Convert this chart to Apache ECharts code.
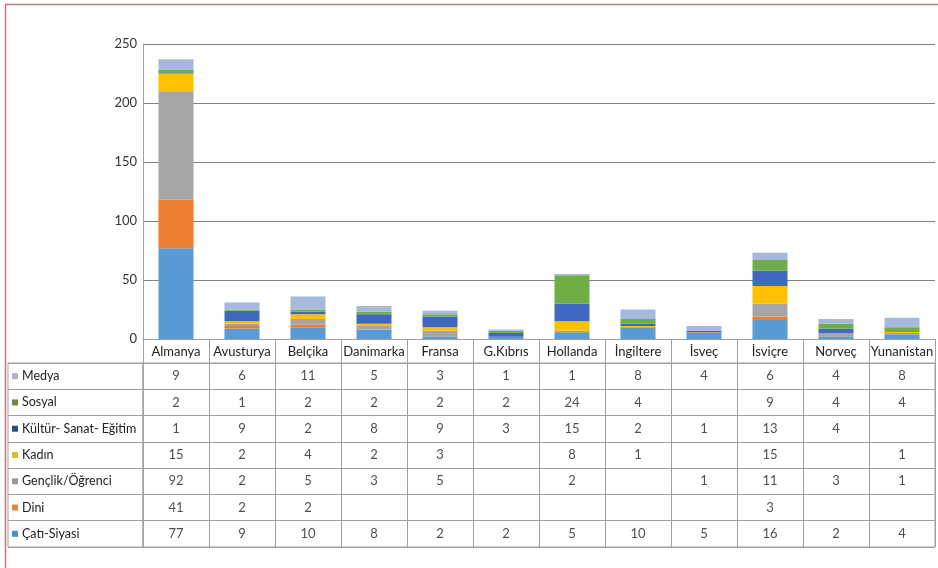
<!DOCTYPE html>
<html><head><meta charset="utf-8">
<script src="https://cdn.jsdelivr.net/npm/echarts@6/dist/echarts.min.js"></script>
<style>html,body{margin:0;padding:0;background:#fff}#c{width:938px;height:568px}</style>
</head><body><div id="c"></div>
<script>
const categories = ['Almanya','Avusturya','Belçika','Danimarka','Fransa','G.Kıbrıs','Hollanda','İngiltere','İsveç','İsviçre','Norveç','Yunanistan'];
const catiSiyasi = [77,9,10,8,2,2,5,10,5,16,2,4];
const dini       = [41,2,2,null,null,null,null,null,null,3,null,null];
const genclik    = [92,2,5,3,5,null,2,null,1,11,3,1];
const kadin      = [15,2,4,2,3,null,8,1,null,15,null,1];
const kultur     = [1,9,2,8,9,3,15,2,1,13,4,null];
const sosyal     = [2,1,2,2,2,2,24,4,null,9,4,4];
const medya      = [9,6,11,5,3,1,1,8,4,6,4,8];
const yTicks = [0,50,100,150,200,250];

// stacking order bottom -> top
const seriesDefs = [
  {name:'Çatı-Siyasi', data:catiSiyasi, color:'#5b9bd5', marker:'#4f8fc9'},
  {name:'Dini', data:dini, color:'#ed7d31', marker:'#d98a4a'},
  {name:'Gençlik/Öğrenci', data:genclik, color:'#a5a5a5', marker:'#9a9a9a'},
  {name:'Kadın', data:kadin, color:'#ffc000', marker:'#d6c02c'},
  {name:'Kültür- Sanat- Eğitim', data:kultur, color:'#4068c0', marker:'#2e4a86'},
  {name:'Sosyal', data:sosyal, color:'#70ad47', marker:'#6e8a3e'},
  {name:'Medya', data:medya, color:'#a6b8dc', marker:'#b0b0cc'}
];
const tableRows = seriesDefs.slice().reverse(); // top -> bottom

const FONT = 'Lato';
const lineGray = '#a0a0a0';
const gridGray = '#808080';

const cellData = [];
tableRows.forEach((r, ri) => {
  r.data.forEach((v, ci) => { if (v !== null) cellData.push([ci, ri, v]); });
});

const rich = {};
tableRows.forEach((r, i) => {
  rich['m' + i] = {width:6, height:6, backgroundColor:r.marker};
  rich['t' + i] = {fontFamily:FONT, fontSize:12.5, color:'#222', padding:[0,0,0,4]};
});

const chart = echarts.init(document.getElementById('c'));
chart.setOption({
  animation:false,
  textStyle:{fontFamily:FONT},
  grid:[
    {left:143, right:3, top:44, height:295},
    {left:143, right:3, top:363, height:184, show:true, borderColor:lineGray, borderWidth:1},
    {left:8, width:135, top:363, height:184, show:true, borderColor:lineGray, borderWidth:1}
  ],
  xAxis:[
    {type:'category', gridIndex:0, data:categories,
     axisLine:{show:true, lineStyle:{color:lineGray}},
     axisTick:{show:true, interval:0, length:24, lineStyle:{color:lineGray}},
     axisLabel:{interval:0, margin:6, fontFamily:FONT, fontSize:13, color:'#222'}},
    {type:'category', gridIndex:1, data:categories,
     axisLine:{show:false}, axisTick:{show:false}, axisLabel:{show:false},
     splitLine:{show:true, interval:0, lineStyle:{color:lineGray}}},
    {type:'value', gridIndex:2, show:false}
  ],
  yAxis:[
    {type:'value', gridIndex:0, min:0, max:250, interval:50,
     axisLine:{show:true, lineStyle:{color:lineGray}}, axisTick:{show:false},
     axisLabel:{margin:6, fontFamily:FONT, fontSize:13, color:'#333', formatter:v => yTicks.includes(v) ? String(v) : ''},
     splitLine:{show:true, lineStyle:{color:gridGray}}},
    {type:'category', gridIndex:1, inverse:true, data:tableRows.map(r => r.name),
     axisLine:{show:false}, axisTick:{show:false},
     axisLabel:{show:true, interval:0, align:'left', margin:131,
       formatter:(v, i) => '{m' + i + '|}{t' + i + '|' + v + '}', rich:rich},
     splitLine:{show:true, interval:0, lineStyle:{color:lineGray}}},
    {type:'category', gridIndex:2, inverse:true, data:tableRows.map(r => r.name),
     axisLine:{show:false}, axisTick:{show:false}, axisLabel:{show:false},
     splitLine:{show:true, interval:0, lineStyle:{color:lineGray}}}
  ],
  series: seriesDefs.map(s => ({
    type:'bar', name:s.name, stack:'total', xAxisIndex:0, yAxisIndex:0,
    data:s.data, barWidth:35, itemStyle:{color:s.color}
  })).concat([{
    type:'scatter', xAxisIndex:1, yAxisIndex:1, symbolSize:0, data:cellData, silent:true,
    label:{show:true, position:'inside', fontFamily:FONT, fontSize:13, color:'#222',
      formatter:p => String(p.value[2])}
  }]),
  graphic:[{type:'rect', left:3, top:2, shape:{width:960, height:600},
    style:{fill:'none', stroke:'#c47a7a', lineWidth:1.5}, silent:true}]
});
</script></body></html>
